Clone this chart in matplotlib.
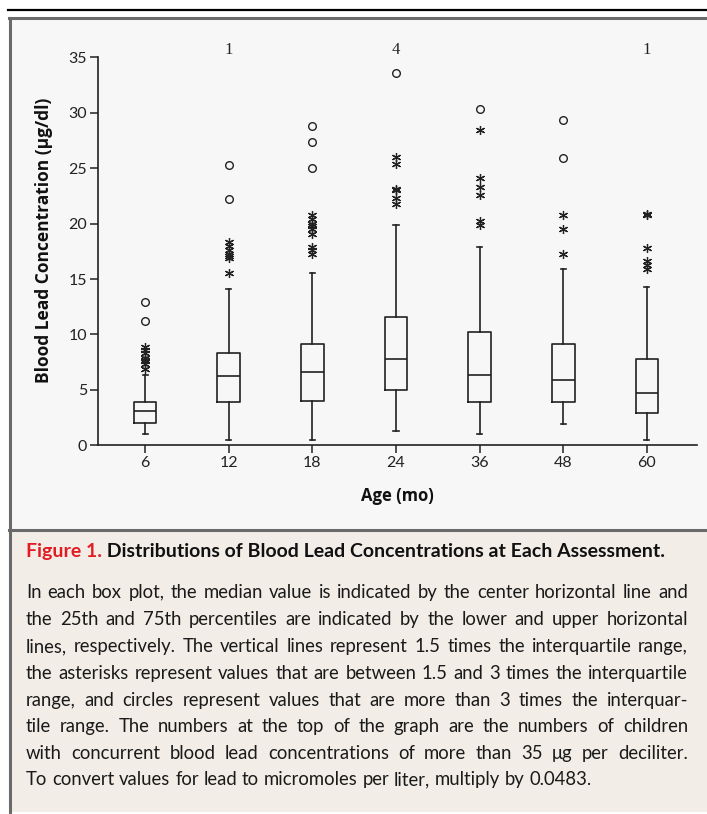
import matplotlib
matplotlib.use("Agg")
import matplotlib.pyplot as plt
from matplotlib.patches import Rectangle
from matplotlib.lines import Line2D
from matplotlib.font_manager import FontProperties

# data (ug/dl)
ages = ['6', '12', '18', '24', '36', '48', '60']
q1 = [2.04, 3.88, 4.00, 4.99, 3.91, 3.91, 2.89]
medians = [3.09, 6.28, 6.64, 7.76, 6.31, 5.92, 4.72]
q3 = [3.93, 8.33, 9.17, 11.57, 10.22, 9.14, 7.81]
whis_lo = [1.05, 0.48, 0.48, 1.29, 0.99, 1.92, 0.50]
whis_hi = [6.34, 14.13, 15.57, 19.87, 17.89, 15.90, 14.31]
asterisks = [
    [6.9, 7.3, 7.6, 7.7, 7.9, 8.3, 8.6, 8.9],
    [15.5, 16.9, 17.1, 17.3, 17.6, 18.0, 18.3],
    [17.3, 17.6, 17.9, 19.1, 19.5, 19.8, 20.0, 20.4, 20.8],
    [21.8, 22.3, 23.0, 23.1, 25.4, 26.0],
    [19.9, 20.2, 22.6, 23.3, 24.1, 28.4],
    [17.3, 19.5, 20.8],
    [15.9, 16.3, 16.6, 17.8, 20.8, 20.9],
]
circles = [
    [11.2, 12.95],
    [22.2, 25.3],
    [25.0, 27.4, 28.8],
    [33.6],
    [30.3],
    [25.9, 29.3],
    [],
]
above_35 = [0, 1, 0, 4, 0, 0, 1]

title_red = 'Figure 1.'
title_rest = ' Distributions of Blood Lead Concentrations at Each Assessment.'
caption_lines = [
    'In each box plot, the median value is indicated by the center horizontal line and',
    'the 25th and 75th percentiles are indicated by the lower and upper horizontal',
    'lines, respectively. The vertical lines represent 1.5 times the interquartile range,',
    'the asterisks represent values that are between 1.5 and 3 times the interquartile',
    'range, and circles represent values that are more than 3 times the interquar-',
    'tile range. The numbers at the top of the graph are the numbers of children',
    'with concurrent blood lead concentrations of more than 35 \u03bcg per deciliter.',
    'To convert values for lead to micromoles per liter, multiply by 0.0483.',
]

W, H = 707, 814
plt.rcParams['font.family'] = ['Lato', 'DejaVu Sans']
fig = plt.figure(figsize=(W / 100, H / 100), dpi=100)
fig.patch.set_facecolor('white')


def fx(px):
    return px / W


def fy(py):
    return 1 - py / H


# panel backgrounds and frame
fig.add_artist(Rectangle((fx(9), fy(530)), fx(700), fy(18) - fy(530),
                         transform=fig.transFigure, facecolor='#f7f7f7', edgecolor='none', zorder=0))
fig.add_artist(Rectangle((fx(9), fy(812)), fx(700), fy(530) - fy(812),
                         transform=fig.transFigure, facecolor='#f2ede7', edgecolor='none', zorder=0))
fig.add_artist(Line2D([fx(8), 1], [fy(10), fy(10)], color='black', lw=1.6))
fig.add_artist(Line2D([fx(9), 1], [fy(18), fy(18)], color='#6a6a6a', lw=2.2))
fig.add_artist(Line2D([fx(9), 1], [fy(530), fy(530)], color='#6a6a6a', lw=2.2))
fig.add_artist(Line2D([fx(10), fx(10)], [fy(18), fy(814)], color='#6a6a6a', lw=2.2))

ax = fig.add_axes([fx(98), fy(445.3), fx(697 - 98), fy(35.1) - fy(445.3)])
ax.set_facecolor('none')

positions = list(range(1, len(ages) + 1))
stats = []
for i in range(len(ages)):
    stats.append(dict(med=medians[i], q1=q1[i], q3=q3[i],
                      whislo=whis_lo[i], whishi=whis_hi[i], fliers=[]))
line_style = dict(color='#222222', linewidth=1.2)
ax.bxp(stats, positions=positions, widths=0.27, capwidths=0.06, showfliers=False,
       boxprops=line_style, whiskerprops=line_style, capprops=line_style,
       medianprops=line_style)

for i, pos in enumerate(positions):
    if asterisks[i]:
        ax.plot([pos] * len(asterisks[i]), asterisks[i], linestyle='none',
                marker=(6, 2, 0), markersize=6.5, markeredgewidth=0.9,
                color='#222222')
    if circles[i]:
        ax.plot([pos] * len(circles[i]), circles[i], linestyle='none',
                marker='o', markersize=5.5, markerfacecolor='none',
                markeredgewidth=1.0, markeredgecolor='#222222')
    if above_35[i]:
        ax.text(pos, 35.65, str(above_35[i]), ha='center', va='center',
                fontsize=12, family='Liberation Serif', color='#222222')

ax.set_xlim(0.438, 7.598)
ax.set_ylim(0, 37)
ax.set_xticks(positions)
ax.set_xticklabels(ages)
ax.set_yticks(range(0, 36, 5))
for side in ['top', 'right']:
    ax.spines[side].set_visible(False)
ax.spines['left'].set_bounds(0, 35)
for side in ['left', 'bottom']:
    ax.spines[side].set_linewidth(1.2)
    ax.spines[side].set_color('#222222')
ax.tick_params(direction='out', length=6, width=1.1, color='#222222',
               labelsize=11.5, labelcolor='#222222', pad=2)
ax.set_ylabel('Blood Lead Concentration (\u03bcg/dl)', fontsize=12.5, fontweight='bold',
              family='Open Sans', labelpad=11, color='#111111')
ax.set_xlabel('Age (mo)', fontsize=12, fontweight='bold', family='Open Sans',
              labelpad=12, color='#111111')

# caption
renderer = fig.canvas.get_renderer()
t_red = fig.text(fx(26), fy(557), title_red, fontsize=14, fontweight='bold',
                 color='#e31b23', va='baseline', ha='left')
bb = t_red.get_window_extent(renderer)
fig.text(bb.x1 / W, fy(557), title_rest, fontsize=14,
         fontweight='bold', color='#111111', va='baseline', ha='left')


def text_w(s, fp):
    return renderer.get_text_width_height_descent(s, fp, ismath=False)[0]


left_px, right_px = 26, 688
# pick the largest size whose widest line still leaves normal spacing
cap_font = FontProperties(family=['Lato', 'DejaVu Sans'], size=10)
widest = max(text_w(t, cap_font) for t in caption_lines)
cap_font.set_size(min(14.5, 10 * 652 / widest))

baselines = [598, 625, 652, 679, 706, 732, 759, 785]
space_w = text_w('a b', cap_font) - text_w('ab', cap_font)
for k, (txt, y) in enumerate(zip(caption_lines, baselines)):
    words = txt.split(' ')
    widths = [text_w(w, cap_font) for w in words]
    if k < len(caption_lines) - 1:
        gap = (right_px - left_px - sum(widths)) / (len(words) - 1)
    else:
        gap = space_w
    x = left_px
    for w, wd in zip(words, widths):
        fig.text(fx(x), fy(y), w, fontproperties=cap_font, color='#1a1a1a',
                 va='baseline', ha='left')
        x += wd + gap

fig.savefig('out.png', dpi=100)
